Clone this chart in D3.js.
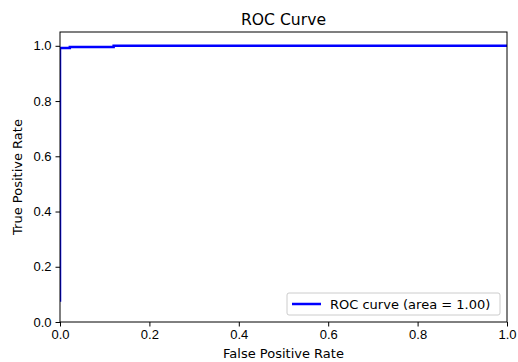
<!DOCTYPE html>
<html>
<head>
<meta charset="utf-8">
<script src="https://cdn.jsdelivr.net/npm/d3@7"></script>
<style>
  body { margin: 0; background: #fff; }
  svg { font-family: "DejaVu Sans", sans-serif; }
  .tick text { font-size: 13px; fill: #000; }
</style>
</head>
<body>
<svg id="chart" width="518" height="362"></svg>
<script>
// roc points
var fpr = [0, 0, 0.022, 0.022, 0.12, 0.12, 1]
var tpr = [0.073, 0.992, 0.992, 0.996, 0.996, 1, 1]
var xTicks = [0, 0.2, 0.4, 0.6, 0.8, 1.0]
var yTicks = [0, 0.2, 0.4, 0.6, 0.8, 1.0]
var legendLabel = 'ROC curve (area = 1.00)'

var margin = {top: 32, left: 60, right: 11, bottom: 40}
var width = 518 - margin.left - margin.right
var height = 362 - margin.top - margin.bottom

var svg = d3.select('#chart')
var g = svg.append('g').attr('transform', `translate(${margin.left},${margin.top})`)

var x = d3.scaleLinear().domain([0, 1]).range([0, width])
var y = d3.scaleLinear().domain([0, 1.05]).range([height, 0])

g.append('clipPath').attr('id', 'clip')
  .append('rect').attr('width', width).attr('height', height)

var pts = fpr.map((d, i) => [d, tpr[i]])
var line = d3.line().x(d => x(d[0])).y(d => y(d[1]))

g.append('path')
  .datum(pts)
  .attr('clip-path', 'url(#clip)')
  .attr('d', line)
  .attr('fill', 'none')
  .attr('stroke', '#0000ff')
  .attr('stroke-width', 2.5)

// axes
var xAxis = g.append('g').attr('transform', `translate(0,${height})`)
  .call(d3.axisBottom(x).tickValues(xTicks).tickFormat(d3.format('.1f')).tickSize(4.5).tickPadding(3.5))
var yAxis = g.append('g')
  .call(d3.axisLeft(y).tickValues(yTicks).tickFormat(d3.format('.1f')).tickSize(4.5).tickPadding(4))
;[xAxis, yAxis].forEach(a => {
  a.select('.domain').remove()
  a.selectAll('.tick line').attr('stroke', '#000').attr('stroke-width', 1)
})

g.append('rect')
  .attr('width', width).attr('height', height)
  .attr('fill', 'none').attr('stroke', '#000').attr('stroke-width', 1)

// labels
svg.append('text').text('ROC Curve')
  .attr('x', margin.left + width / 2).attr('y', 25)
  .attr('text-anchor', 'middle').attr('font-size', 15.6)
svg.append('text').text('False Positive Rate')
  .attr('x', margin.left + width / 2).attr('y', 358)
  .attr('text-anchor', 'middle').attr('font-size', 13)
svg.append('text').text('True Positive Rate')
  .attr('transform', `translate(22,${margin.top + height / 2}) rotate(-90)`)
  .attr('text-anchor', 'middle').attr('font-size', 13)

// legend
var lg = g.append('g').attr('transform', `translate(${width - 220},${height - 29})`)
lg.append('rect')
  .attr('width', 213).attr('height', 22).attr('rx', 2)
  .attr('fill', '#fff').attr('fill-opacity', 0.8)
  .attr('stroke', '#ccc').attr('stroke-width', 1)
lg.append('line')
  .attr('x1', 5).attr('x2', 34).attr('y1', 11).attr('y2', 11)
  .attr('stroke', '#0000ff').attr('stroke-width', 2.5)
lg.append('text').text(legendLabel)
  .attr('x', 43).attr('y', 15.5).attr('font-size', 13)
</script>
</body>
</html>
